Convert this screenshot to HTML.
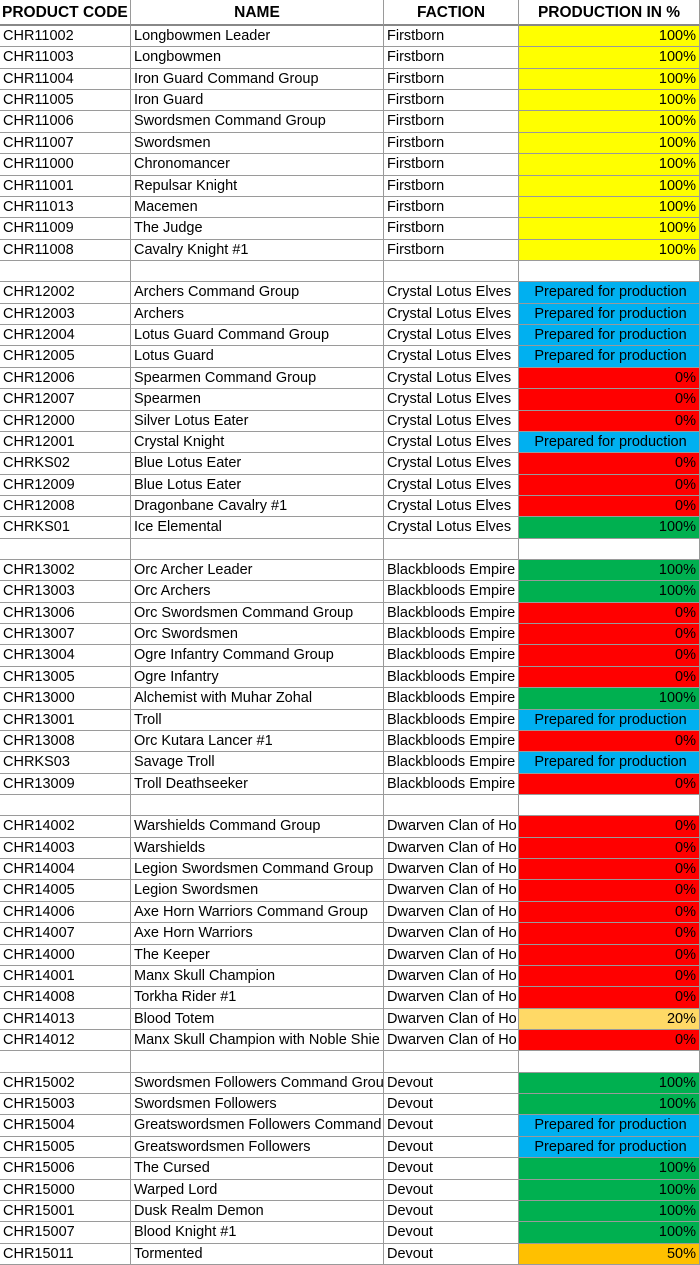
<!DOCTYPE html>
<html><head><meta charset="utf-8"><style>
*{margin:0;padding:0;box-sizing:border-box}
body{width:700px;height:1265px;background:#fff;overflow:hidden;font-family:"Liberation Sans",Arial,sans-serif;}
.t{display:grid;grid-template-columns:131px 253px 135px 181px;grid-template-rows:26px repeat(58,1fr);height:1265px;width:700px;}
.t div{border-right:1px solid #9a9a9a;border-bottom:1px solid #9a9a9a;white-space:nowrap;overflow:hidden;font-size:14.5px;line-height:21px;padding-left:3px;color:#000;}
.t .h{font-weight:bold;font-size:15.5px;text-align:center;line-height:25px;border-bottom:2px solid #888;padding:0}
.t .h.l{text-align:left;padding-left:2px}
.r{text-align:right;padding-right:3px}
.c{text-align:center}
.Y{background:#ffff00}.B{background:#00b0f0}.R{background:#ff0000}.G{background:#00b050}.L{background:#ffd966}.O{background:#ffc000}
</style></head><body><div class="t" id="t">
<div class="h l">PRODUCT CODE</div><div class="h">NAME</div><div class="h">FACTION</div><div class="h">PRODUCTION IN %</div>
</div>
<script>
var rows=[
["CHR11002","Longbowmen Leader","Firstborn","Y"],
["CHR11003","Longbowmen","Firstborn","Y"],
["CHR11004","Iron Guard Command Group","Firstborn","Y"],
["CHR11005","Iron Guard","Firstborn","Y"],
["CHR11006","Swordsmen Command Group","Firstborn","Y"],
["CHR11007","Swordsmen","Firstborn","Y"],
["CHR11000","Chronomancer","Firstborn","Y"],
["CHR11001","Repulsar Knight","Firstborn","Y"],
["CHR11013","Macemen","Firstborn","Y"],
["CHR11009","The Judge","Firstborn","Y"],
["CHR11008","Cavalry Knight #1","Firstborn","Y"],
null,
["CHR12002","Archers Command Group","Crystal Lotus Elves","B"],
["CHR12003","Archers","Crystal Lotus Elves","B"],
["CHR12004","Lotus Guard Command Group","Crystal Lotus Elves","B"],
["CHR12005","Lotus Guard","Crystal Lotus Elves","B"],
["CHR12006","Spearmen Command Group","Crystal Lotus Elves","R"],
["CHR12007","Spearmen","Crystal Lotus Elves","R"],
["CHR12000","Silver Lotus Eater","Crystal Lotus Elves","R"],
["CHR12001","Crystal Knight","Crystal Lotus Elves","B"],
["CHRKS02","Blue Lotus Eater","Crystal Lotus Elves","R"],
["CHR12009","Blue Lotus Eater","Crystal Lotus Elves","R"],
["CHR12008","Dragonbane Cavalry #1","Crystal Lotus Elves","R"],
["CHRKS01","Ice Elemental","Crystal Lotus Elves","G"],
null,
["CHR13002","Orc Archer Leader","Blackbloods Empire","G"],
["CHR13003","Orc Archers","Blackbloods Empire","G"],
["CHR13006","Orc Swordsmen Command Group","Blackbloods Empire","R"],
["CHR13007","Orc Swordsmen","Blackbloods Empire","R"],
["CHR13004","Ogre Infantry Command Group","Blackbloods Empire","R"],
["CHR13005","Ogre Infantry","Blackbloods Empire","R"],
["CHR13000","Alchemist with Muhar Zohal","Blackbloods Empire","G"],
["CHR13001","Troll","Blackbloods Empire","B"],
["CHR13008","Orc Kutara Lancer #1","Blackbloods Empire","R"],
["CHRKS03","Savage Troll","Blackbloods Empire","B"],
["CHR13009","Troll Deathseeker","Blackbloods Empire","R"],
null,
["CHR14002","Warshields Command Group","Dwarven Clan of Ho","R"],
["CHR14003","Warshields","Dwarven Clan of Ho","R"],
["CHR14004","Legion Swordsmen Command Group","Dwarven Clan of Ho","R"],
["CHR14005","Legion Swordsmen","Dwarven Clan of Ho","R"],
["CHR14006","Axe Horn Warriors Command Group","Dwarven Clan of Ho","R"],
["CHR14007","Axe Horn Warriors","Dwarven Clan of Ho","R"],
["CHR14000","The Keeper","Dwarven Clan of Ho","R"],
["CHR14001","Manx Skull Champion","Dwarven Clan of Ho","R"],
["CHR14008","Torkha Rider #1","Dwarven Clan of Ho","R"],
["CHR14013","Blood Totem","Dwarven Clan of Ho","L"],
["CHR14012","Manx Skull Champion with Noble Shie","Dwarven Clan of Ho","R"],
null,
["CHR15002","Swordsmen Followers Command Grou","Devout","G"],
["CHR15003","Swordsmen Followers","Devout","G"],
["CHR15004","Greatswordsmen Followers Command","Devout","B"],
["CHR15005","Greatswordsmen Followers","Devout","B"],
["CHR15006","The Cursed","Devout","G"],
["CHR15000","Warped Lord","Devout","G"],
["CHR15001","Dusk Realm Demon","Devout","G"],
["CHR15007","Blood Knight #1","Devout","G"],
["CHR15011","Tormented","Devout","O"]];
var txt={Y:"100%",G:"100%",R:"0%",L:"20%",O:"50%",B:"Prepared for production"};
var h="";
rows.forEach(function(r){
 if(!r){h+="<div></div><div></div><div></div><div></div>";return;}
 var cls=r[3]+(r[3]=="B"?" c":" r");
 h+="<div>"+r[0]+"</div><div>"+r[1]+"</div><div>"+r[2]+"</div><div class='"+cls+"'>"+txt[r[3]]+"</div>";
});
document.getElementById("t").insertAdjacentHTML("beforeend",h);
</script>
</body></html>
